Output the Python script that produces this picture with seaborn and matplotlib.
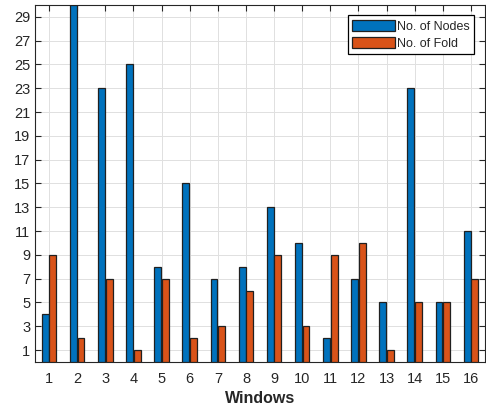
import numpy as np
import pandas as pd
import matplotlib
matplotlib.use("Agg")
import matplotlib.pyplot as plt
import seaborn as sns

windows = [str(i) for i in range(1, 17)]
nodes = [4, 30, 23, 25, 8, 15, 7, 8, 13, 10, 2, 7, 5, 23, 5, 11]
folds = [9, 2, 7, 1, 7, 2, 3, 6, 9, 3, 9, 10, 1, 5, 5, 7]
series_names = ["No. of Nodes", "No. of Fold"]
y_ticks = list(range(1, 30, 2))

df = pd.DataFrame({
    "Windows": windows * 2,
    "Value": nodes + folds,
    "Series": [series_names[0]] * len(windows) + [series_names[1]] * len(windows),
})

sns.set_theme(style="white")
plt.rcParams["font.family"] = ["Liberation Sans", "DejaVu Sans"]

fig = plt.figure(figsize=(4.86, 4.09), dpi=100)
ax = fig.add_axes([0.072, 0.115, 0.926, 0.873])

palette = {series_names[0]: "#0072BD", series_names[1]: "#D95319"}
sns.barplot(data=df, x="Windows", y="Value", hue="Series", order=windows,
            hue_order=series_names, palette=palette, width=0.54, gap=0.1,
            edgecolor="#202020", linewidth=0.9, saturation=1, ax=ax, zorder=3)

ax.set_xlim(-0.5, len(windows) - 0.5)
ax.set_ylim(0, 30)
ax.set_yticks(y_ticks)
ax.set_yticklabels([str(t) for t in y_ticks])
ax.set_xticks(range(len(windows)))
ax.set_xticklabels(windows)

ax.grid(True, color="#e0e0e0", linewidth=0.7, zorder=0)
ax.set_axisbelow(True)
ax.tick_params(direction="in", length=4, width=0.8, color="#262626",
               labelsize=10.5, labelcolor="#262626",
               top=True, right=True, bottom=True, left=True)
ax.tick_params(axis="x", pad=7)
for s in ax.spines.values():
    s.set_color("#262626")
    s.set_linewidth(0.8)

ax.set_xlabel("Windows", fontsize=11.5, fontweight="bold", color="#262626", labelpad=4)
ax.set_ylabel("")

leg = ax.legend(loc="upper right", bbox_to_anchor=(0.982, 0.978), fontsize=9,
                fancybox=False, framealpha=1, edgecolor="black",
                handlelength=3.4, handleheight=1.0, handletextpad=0.2,
                borderpad=0.35, labelspacing=0.35, borderaxespad=0.2)
leg.get_frame().set_linewidth(0.9)

fig.savefig("out.png", dpi=100)
